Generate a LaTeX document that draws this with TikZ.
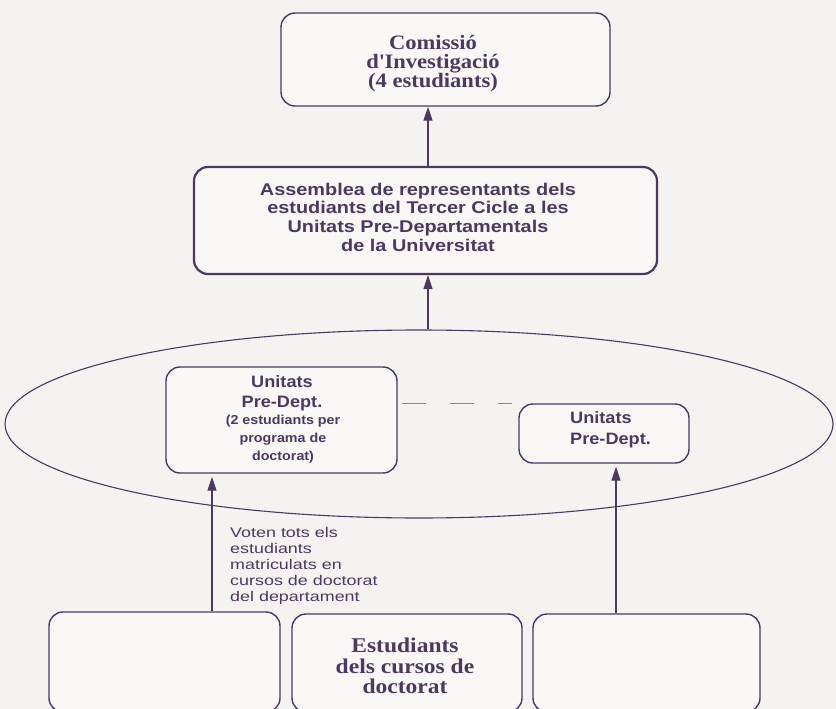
\documentclass[tikz,border=0pt]{standalone}
\usepackage{fontspec}
\setmainfont{Liberation Serif}
\setsansfont{Liberation Sans}
\newfontfamily\serifwide[FakeStretch=1.1]{Liberation Serif}
\newfontfamily\serifbot[FakeStretch=1.12]{Liberation Serif}
\newfontfamily\sanswide[FakeStretch=1.17]{Liberation Sans}
\newfontfamily\sansunit[FakeStretch=1.1]{Liberation Sans}
\newfontfamily\sansvote[FakeStretch=1.28]{Liberation Sans}
\usetikzlibrary{arrows.meta,shapes.geometric}
\definecolor{ink}{HTML}{4B3A5E}
\definecolor{bg}{HTML}{F5F3F1}
\definecolor{boxfill}{HTML}{F9F8F7}
\begin{document}
\begin{tikzpicture}[x=1pt,y=-1pt,line join=round,
  box/.style={draw=ink,line width=1.4pt,rounded corners=14pt,fill=boxfill,inner sep=0pt},
  arr/.style={draw=ink,line width=1.3pt,-{Triangle[length=14pt,width=9pt]}},
  txt/.style={text=ink,inner sep=0pt}]
\fill[bg] (0,0) rectangle (836,709);
\useasboundingbox (0,0) rectangle (836,709);
\begin{scope}
\clip (0,0) rectangle (836,709);
% ellipse
\node[ellipse,draw=ink,line width=1.1pt,fill=bg,minimum width=828pt,minimum height=188pt] (ell) at (419,424) {};
% boxes
\node[box,minimum width=329pt,minimum height=93pt] (top) at (445.5,59.5) {};
\node[box,line width=2.2pt,minimum width=463pt,minimum height=107pt] (asm) at (425.5,220.5) {};
\node[box,minimum width=231pt,minimum height=106pt] (lbox) at (281.5,420) {};
\node[box,minimum width=170pt,minimum height=59pt] (rbox) at (604,433.5) {};
\node[box,minimum width=231pt,minimum height=100pt] (b1) at (164.5,662) {};
\node[box,minimum width=230pt,minimum height=98pt] (b2) at (407,663) {};
\node[box,minimum width=227pt,minimum height=98pt] (b3) at (646.5,663) {};
\end{scope}
% texts
\node[txt,anchor=north,align=center,font=\serifwide\bfseries\fontsize{20.5}{18.8}\selectfont] (ttop) at (433,35) {Comissió\\d\textquotesingle Investigació\\(4 estudiants)};
\node[txt,anchor=north,align=center,font=\sanswide\bfseries\fontsize{17}{18.8}\selectfont] (tasm) at (418,182.5) {Assemblea de representants dels\\estudiants del Tercer Cicle a les\\Unitats Pre-Departamentals\\de la Universitat};
\node[txt,anchor=north,align=center,font=\sansunit\bfseries\fontsize{16.5}{20}\selectfont] (tl1) at (282,375.2) {Unitats\\Pre-Dept.};
\node[txt,anchor=north,align=center,font=\sansunit\bfseries\fontsize{13}{18}\selectfont] (tl2) at (283,414.5) {(2 estudiants per\\programa de\\doctorat)};
\node[txt,anchor=north west,align=left,font=\sansunit\bfseries\fontsize{16.5}{21}\selectfont] (tr) at (570,411.2) {Unitats\\Pre-Dept.};
\node[txt,anchor=north west,align=left,font=\sansvote\fontsize{14}{16}\selectfont] (tvot) at (230,527) {Voten tots els\\estudiants\\matriculats en\\cursos de doctorat\\del departament};
\node[txt,anchor=north,align=center,font=\serifbot\bfseries\fontsize{21}{20.5}\selectfont] (tb2) at (405,638) {Estudiants\\dels cursos de\\doctorat};
% connectors
\coordinate (ax) at (428,0);
\coordinate (lx) at (212,0);
\coordinate (rx) at (616,0);
\coordinate (dy) at (0,403);
\draw[arr] (asm.north -| ax) -- (top.south -| ax);
\draw[arr] (ell.north -| ax) -- (asm.south -| ax);
\draw[arr,shorten >=3pt] (b1.north -| lx) -- (lbox.south -| lx);
\draw[arr,shorten >=3pt] (b3.north -| rx) -- (rbox.south -| rx);
\draw[draw=ink!60,line width=1pt,dash pattern=on 24pt off 24pt,shorten <=4pt,shorten >=6pt] (lbox.east |- dy) -- (rbox.west |- dy);
\end{tikzpicture}
\end{document}
